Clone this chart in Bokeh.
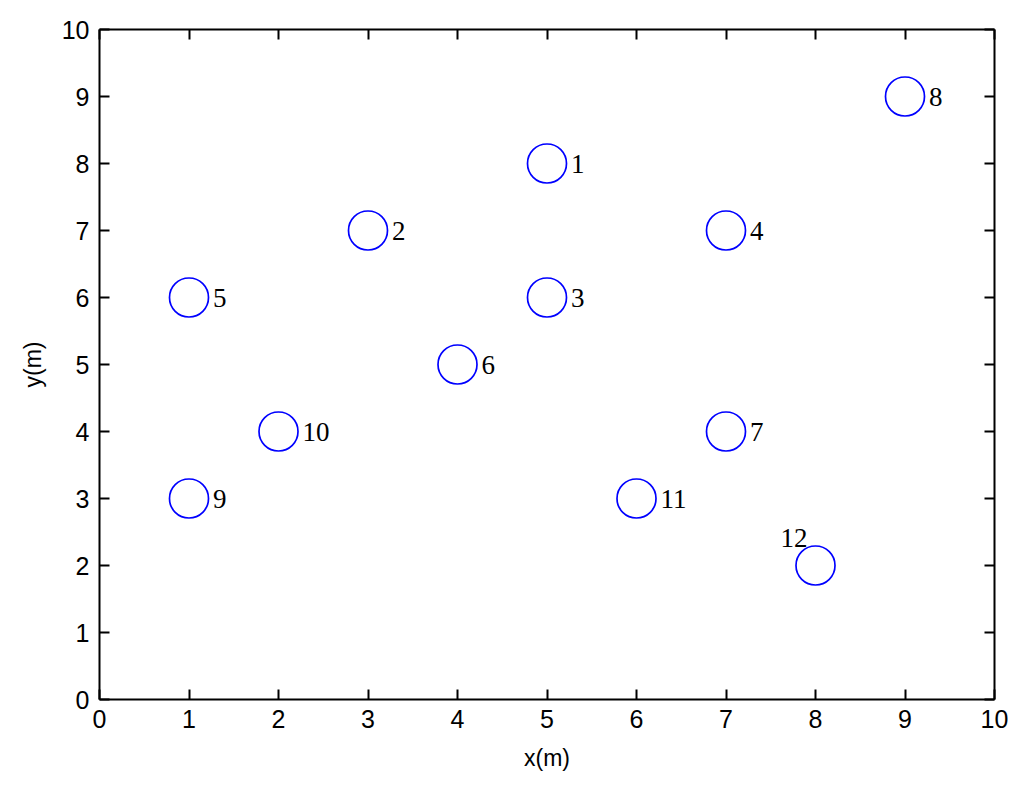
from bokeh.plotting import figure
from bokeh.models import LinearAxis, FixedTicker, Range1d, ColumnDataSource
from bokeh.core.properties import value
from bokeh.embed import file_html
from bokeh.resources import INLINE

node_ids = ["1", "2", "3", "4", "5", "6", "7", "8", "9", "10", "11", "12"]
node_x = [5, 3, 5, 7, 1, 4, 7, 9, 1, 2, 6, 8]
node_y = [8, 7, 6, 7, 6, 5, 4, 9, 3, 4, 3, 2]
tick_values = [0, 1, 2, 3, 4, 5, 6, 7, 8, 9, 10]

p = figure(width=1008, height=776, output_backend="svg", toolbar_location=None,
           x_range=Range1d(0, 10), y_range=Range1d(0, 10),
           x_axis_location=None, y_axis_location=None)
p.min_border_left = 99
p.min_border_top = 29
p.min_border_right = 14
p.min_border_bottom = 77
p.grid.visible = False
p.outline_line_color = None
p.background_fill_color = "white"
p.border_fill_color = "white"

ticker = FixedTicker(ticks=tick_values)

def make_axis(labels=True, label=None):
    ax = LinearAxis(ticker=ticker)
    ax.axis_line_color = "black"
    ax.axis_line_width = 2
    ax.major_tick_in = 10
    ax.major_tick_out = 0
    ax.major_tick_line_width = 2
    ax.major_tick_line_color = "black"
    ax.minor_tick_line_color = None
    ax.major_label_text_font = "Liberation Sans"
    ax.major_label_text_font_size = "25px"
    ax.major_label_text_color = "black"
    if not labels:
        ax.major_label_text_font_size = "0px"
        ax.major_label_text_alpha = 0
    if label:
        ax.axis_label = label
        ax.axis_label_text_font = "Liberation Sans"
        ax.axis_label_text_font_size = "23px"
        ax.axis_label_text_font_style = "normal"
        ax.axis_label_text_color = "black"
    return ax

bx = make_axis(True, "x(m)")
bx.major_label_standoff = 10
bx.axis_label_standoff = 14
ly = make_axis(True, "y(m)")
ly.major_label_standoff = 10
ly.axis_label_standoff = 13
p.add_layout(bx, "below")
p.add_layout(ly, "left")
p.add_layout(make_axis(False), "above")
p.add_layout(make_axis(False), "right")

src = ColumnDataSource(dict(x=node_x, y=node_y, label=node_ids))
p.scatter("x", "y", source=src, marker="circle", size=39,
          fill_color=None, line_color="#0000ff", line_width=1.7)

# labels: right of the circle, except node 12 which is placed above-left
normal = [i for i, n in enumerate(node_ids) if n != "12"]
special = [i for i, n in enumerate(node_ids) if n == "12"]
src_n = ColumnDataSource(dict(x=[node_x[i] for i in normal], y=[node_y[i] for i in normal],
                              label=[node_ids[i] for i in normal]))
src_s = ColumnDataSource(dict(x=[node_x[i] for i in special], y=[node_y[i] for i in special],
                              label=[node_ids[i] for i in special]))
p.text("x", "y", text="label", source=src_n, x_offset=24, y_offset=0,
       text_align="left", text_baseline="middle",
       text_font=value("Liberation Serif"), text_font_size="27px", text_color="black")
p.text("x", "y", text="label", source=src_s, x_offset=-8, y_offset=-19,
       text_align="right", text_baseline="bottom",
       text_font=value("Liberation Serif"), text_font_size="27px", text_color="black")

open("out.html", "w").write(file_html(p, INLINE))
